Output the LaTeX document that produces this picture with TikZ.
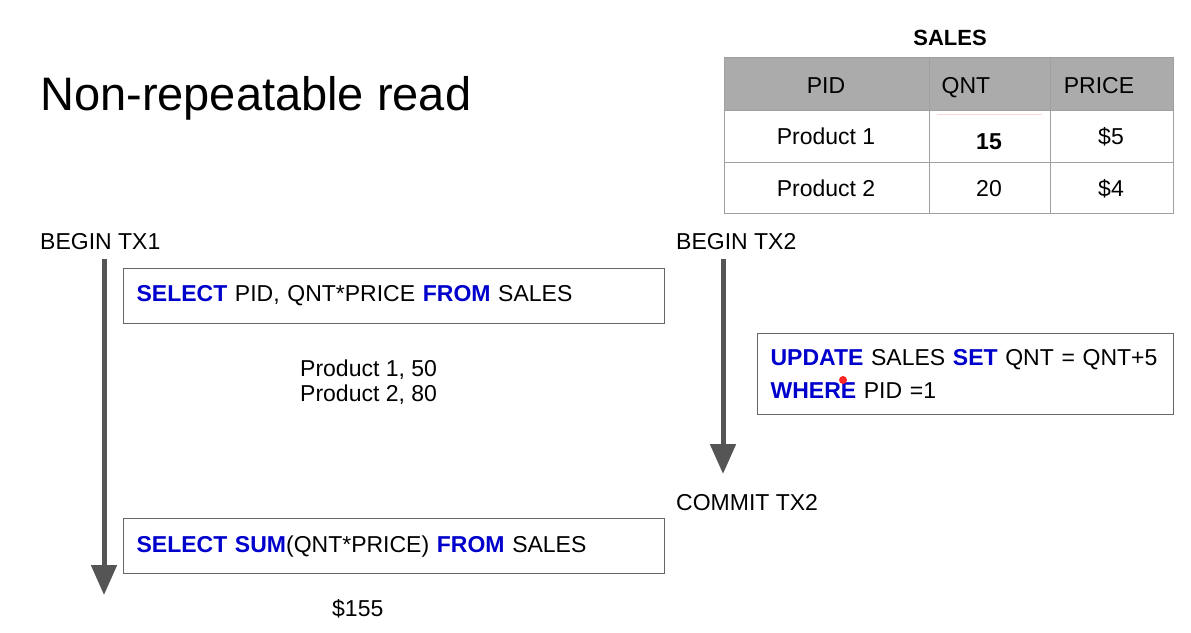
\documentclass[tikz,border=0pt]{standalone}
\usepackage{fontspec}
\setmainfont{Liberation Sans}
\usetikzlibrary{arrows.meta}
\definecolor{kw}{HTML}{0000CC}
\definecolor{gridc}{HTML}{A0A0A0}
\definecolor{headc}{HTML}{ABABAB}
\definecolor{arrc}{HTML}{555555}
\definecolor{boxc}{HTML}{666666}
\newcommand{\kwd}[1]{\textcolor{kw}{\textbf{#1}}}
\tikzset{
  lbl/.style={font=\fontsize{23}{27}\selectfont, inner sep=0pt, anchor=base},
  cell/.style={draw=gridc, line width=1.2pt, inner sep=0pt, anchor=north west},
  sqlbox/.style={draw=boxc, line width=1.2pt, font=\fontsize{23}{30}\selectfont, align=left, inner xsep=13pt, inner ysep=0pt, anchor=north west},
  txarrow/.style={arrc, line width=5pt, -{Triangle[width=25pt,length=30pt]}},
}
\begin{document}
\begin{tikzpicture}[x=1pt,y=-1pt]
\useasboundingbox (0,0) rectangle (1191,632);
\fill[white] (0,0) rectangle (1191,632);
% title
\node[anchor=west, inner sep=0pt, font=\fontsize{47}{56}\selectfont] (title) at (40,98) {Non-repeatable read};
% table
\node[lbl, font=\bfseries\fontsize{22}{26}\selectfont] (tname) at (950,45) {SALES};
\node[cell, fill=headc, minimum width=205pt, minimum height=53pt] (h1) at (724,57) {};
\node[cell, fill=headc, minimum width=121pt, minimum height=53pt] (h2) at (929,57) {};
\node[cell, fill=headc, minimum width=123pt, minimum height=53pt] (h3) at (1050,57) {};
\node[cell, minimum width=205pt, minimum height=52pt] (r11) at (724,110) {};
\node[cell, minimum width=121pt, minimum height=52pt] (r12) at (929,110) {};
\node[cell, minimum width=123pt, minimum height=52pt] (r13) at (1050,110) {};
\node[cell, minimum width=205pt, minimum height=51pt] (r21) at (724,162) {};
\node[cell, minimum width=121pt, minimum height=51pt] (r22) at (929,162) {};
\node[cell, minimum width=123pt, minimum height=51pt] (r23) at (1050,162) {};
\node[lbl] (t11) at (826,93) {PID};
\node[lbl] (t12) at (966,93) {QNT};
\node[lbl] (t13) at (1099,93) {PRICE};
\node[lbl] (t21) at (826,144) {Product 1};
\node[lbl, font=\bfseries\fontsize{23}{27}\selectfont] (t22) at (989,149) {15};
\node[lbl] (t23) at (1111,144) {\$5};
\node[lbl] (t31) at (826,196) {Product 2};
\node[lbl] (t32) at (989,196) {20};
\node[lbl] (t33) at (1111,196) {\$4};
\coordinate (pk1) at (937,114);
\coordinate (pk2) at (1042,114);
\draw[pink!80!red!40, line width=0.8pt] (pk1) -- (pk2);
% transactions
\node[lbl, anchor=base west] (b1) at (40,249) {BEGIN TX1};
\node[lbl, anchor=base west] (b2) at (676,249) {BEGIN TX2};
\node[lbl, anchor=base west] (c2) at (676,510) {COMMIT TX2};
\coordinate (a1s) at (104,259);
\coordinate (a1e) at (104,595);
\coordinate (a2s) at (723,259);
\coordinate (a2e) at (723,474);
\draw[txarrow] (a1s) -- (a1e);
\draw[txarrow] (a2s) -- (a2e);
% sql boxes
\node[sqlbox, text width=515pt, minimum height=55pt] (q1) at (123,268) {\kwd{SELECT} PID, QNT*PRICE \kwd{FROM} SALES};
\node[sqlbox, text width=515pt, minimum height=55pt] (q2) at (123,518) {\kwd{SELECT} \kwd{SUM}(QNT*PRICE) \kwd{FROM} SALES};
\node[sqlbox, text width=390pt, minimum height=81pt, font=\fontsize{23}{33}\selectfont] (u1) at (757,333) {\kwd{UPDATE} SALES \kwd{SET} QNT = QNT+5\\\kwd{WHERE} PID =1};
\fill[red!85!white] (843,380) circle (4pt);
% results
\node[lbl, anchor=base west] (res1) at (300,376) {Product 1, 50};
\node[lbl, anchor=base west] (res1b) at (300,401) {Product 2, 80};
\node[lbl, anchor=base west] (res2) at (332,616) {\$155};
\end{tikzpicture}
\end{document}
